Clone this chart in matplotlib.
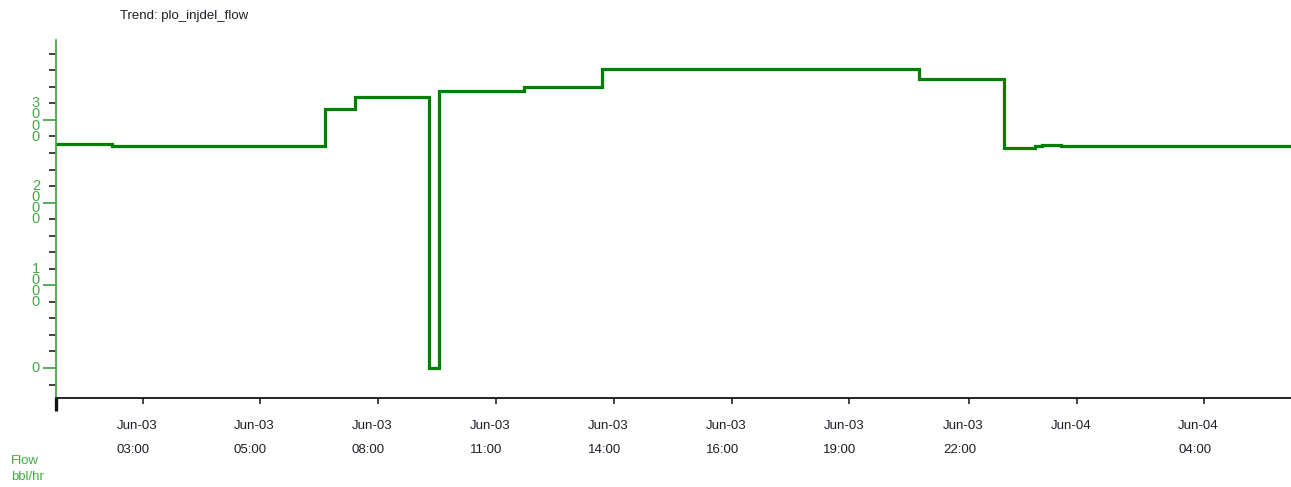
import matplotlib.pyplot as plt
import matplotlib as mpl
from matplotlib.ticker import MultipleLocator, FixedLocator

mpl.rcParams.update({'font.size': 9.5,
                     'font.family': ['Liberation Sans', 'DejaVu Sans']})

# 数据：时间（小时，从 Jun-03 00:00 起算）和流量 (bbl/hr)
step_hours = [0.73, 1.99, 6.81, 7.49, 9.16, 9.385, 11.30, 13.06, 20.23, 22.16, 22.85, 23.01, 23.435, 28.64]
flow_values = [2706, 2685, 3127, 3278, 0, 3351, 3401, 3613, 3492, 2658, 2682, 2703, 2688, 2688]

x_ticks = [2.69, 5.34, 8.0, 10.68, 13.33, 16.01, 18.66, 21.36, 23.81, 26.68]
x_dates = ['Jun-03', 'Jun-03', 'Jun-03', 'Jun-03', 'Jun-03', 'Jun-03', 'Jun-03', 'Jun-03', 'Jun-04', 'Jun-04']
x_times = ['03:00', '05:00', '08:00', '11:00', '14:00', '16:00', '19:00', '22:00', '', '04:00']
y_ticks = [0, 1000, 2000, 3000]

x_range = (0.73, 28.64)
y_range = (-363, 3967)

line_green = '#008000'
axis_green = '#45a845'
text_dark = '#1e1e28'


def plot_trend(out_file='out.png'):
    fig = plt.figure(figsize=(12.91, 4.87), dpi=100)
    ax = fig.add_axes([56 / 1291, 1 - 398 / 487, 1 - 56 / 1291, (398 - 40) / 487])

    # 阶梯线
    ax.step(step_hours, flow_values, where='post', color=line_green, lw=2.3, solid_joinstyle='miter')

    ax.set_xlim(x_range)
    ax.set_ylim(y_range)

    # 坐标轴样式
    for side in ['top', 'right']:
        ax.spines[side].set_visible(False)
    ax.spines['left'].set_color(axis_green)
    ax.spines['left'].set_linewidth(1.3)
    ax.spines['bottom'].set_color('#111111')
    ax.spines['bottom'].set_linewidth(1.3)

    # x 轴刻度（第一个为左端粗刻度）
    ax.xaxis.set_major_locator(FixedLocator([x_range[0]] + x_ticks))
    ax.set_xticklabels([''] + [d + '\n\n' + t for d, t in zip(x_dates, x_times)],
                       ha='left', linespacing=1.03, color=text_dark)
    ax.tick_params(axis='x', direction='out', length=4.5, width=1.1, color='#111111', pad=11)
    offset = mpl.transforms.ScaledTranslation(-26 / 100, 0, fig.dpi_scale_trans)
    for lab in ax.get_xticklabels():
        lab.set_transform(lab.get_transform() + offset)
    first = ax.xaxis.get_major_ticks()[0]
    first.tick1line.set_markersize(9)
    first.tick1line.set_markeredgewidth(2.4)

    # y 轴刻度：主刻度绿色，次刻度深灰
    ax.yaxis.set_major_locator(FixedLocator(y_ticks))
    ax.yaxis.set_minor_locator(MultipleLocator(200))
    ax.set_yticklabels([])
    ax.tick_params(axis='y', which='major', direction='out', length=9.5, width=1.3, color=axis_green)
    ax.tick_params(axis='y', which='minor', direction='out', length=5, width=1.3, color='#333333')

    # 竖排的 y 轴标签（每个数字一行）
    for val in y_ticks:
        ax.annotate('\n'.join(str(val)), xy=(0, val), xycoords=('axes fraction', 'data'),
                    xytext=(-14.5, 0), textcoords='offset points', linespacing=0.74,
                    ha='center', va='center', color=axis_green, fontsize=10.5)

    fig.text(120 / 1291, 1 - 16 / 487, 'Trend: plo_injdel_flow', ha='left', va='center', color=text_dark)
    fig.text(11 / 1291, 1 - 461 / 487, 'Flow', ha='left', va='center', color=axis_green)
    fig.text(11 / 1291, 1 - 477 / 487, 'bbl/hr', ha='left', va='center', color=axis_green)

    plt.savefig(out_file, dpi=100)


if __name__ == "__main__":
    plot_trend('out.png')
